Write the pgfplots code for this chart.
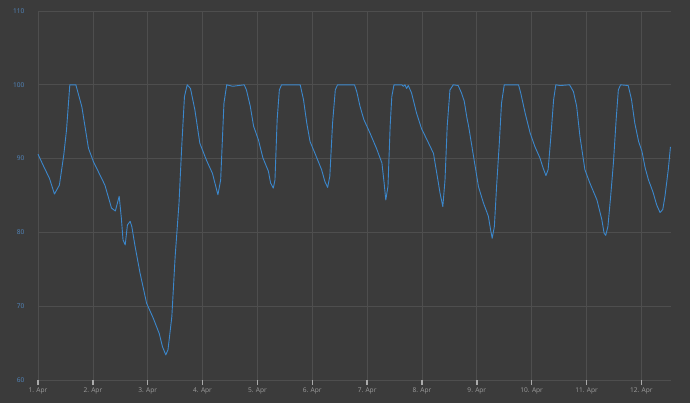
\documentclass[border=0pt]{standalone}
\usepackage{fontspec}
\setmainfont{Open Sans}
\usepackage{pgfplots}
\pgfplotsset{compat=1.18}
\definecolor{bgc}{HTML}{3B3B3B}
\definecolor{gridc}{HTML}{4E4E4E}
\definecolor{linec}{HTML}{3B87CB}
\definecolor{ylab}{HTML}{5288C0}
\definecolor{xlab}{HTML}{9E9E9E}
\definecolor{tickc}{HTML}{AAAAAA}

\begin{document}
\begin{tikzpicture}
\useasboundingbox (0,0) rectangle (690bp,403bp);
\fill[bgc] (0,0) rectangle (690bp,403bp);
\begin{axis}[
    at={(38bp,23bp)}, anchor=south west,
    width=633bp, height=369bp, scale only axis,
    xmin=1, xmax=12.54, ymin=60, ymax=110,
    xtick={1,2,3,4,5,6,7,8,9,10,11,12},
    xticklabels={1. Apr,2. Apr,3. Apr,4. Apr,5. Apr,6. Apr,7. Apr,8. Apr,9. Apr,10. Apr,11. Apr,12. Apr},
    ytick={60,70,80,90,100,110},
    grid=major,
    grid style={gridc, line width=0.7bp},
    axis line style={draw=none},
    xtick pos=bottom, ytick pos=left,
    tick align=outside,
    major tick length=5bp,
    xtick style={tickc, line width=1.4bp},
    ytick style={draw=none},
    /pgf/number format/assume math mode=true,
    ticklabel style={font=\fontsize{6.6}{8}\selectfont},
    xticklabel style={xlab, yshift=0.5bp},
    yticklabel style={ylab, xshift=-5bp},
    clip=false,
]
\addplot[linec, line width=0.9bp, line join=round] coordinates {
(1.00,90.6) (1.10,89.0) (1.21,87.3) (1.30,85.2) (1.39,86.4) (1.47,90.5)
(1.52,93.9) (1.58,100) (1.69,100) (1.80,97.0) (1.92,91.4) (2.01,89.6)
(2.22,86.4) (2.34,83.3) (2.41,82.9) (2.48,84.9) (2.52,81.9) (2.55,79.0)
(2.59,78.3) (2.63,81.0) (2.68,81.5) (2.71,80.8) (2.77,78.1) (2.86,74.5)
(2.98,70.4) (3.10,68.4) (3.21,66.3) (3.27,64.5) (3.33,63.4) (3.37,64.1)
(3.44,68.6) (3.50,76.7) (3.57,83.9) (3.62,91.6) (3.67,98.4) (3.72,100)
(3.78,99.5) (3.86,96.6) (3.95,92.1) (4.07,89.8) (4.18,88.0) (4.28,85.1)
(4.33,87.1) (4.39,97.5) (4.44,100) (4.55,99.8) (4.76,100) (4.80,99.3)
(4.87,97.1) (4.93,94.4) (5.02,92.5) (5.10,90.1) (5.20,88.3) (5.24,86.7)
(5.29,86.0) (5.32,87.1) (5.36,95.3) (5.40,99.3) (5.44,100) (5.78,100)
(5.84,98.0) (5.90,94.8) (5.96,92.3) (6.05,90.7) (6.17,88.5) (6.23,86.9)
(6.28,86.1) (6.32,87.6) (6.37,94.8) (6.42,99.3) (6.46,100) (6.77,100)
(6.81,99.1) (6.87,97.1) (6.94,95.3) (7.05,93.5) (7.17,91.4) (7.27,89.4)
(7.31,86.7) (7.34,84.4) (7.38,86.2) (7.42,94.4) (7.45,98.4) (7.49,100)
(7.63,100) (7.66,99.8) (7.69,100) (7.72,99.5) (7.75,99.9) (7.81,98.9)
(7.90,96.2) (7.99,94.1) (8.12,92.1) (8.21,90.7) (8.27,88.0) (8.33,85.3)
(8.38,83.5) (8.42,87.1) (8.46,94.4) (8.51,99.3) (8.57,100) (8.66,99.9)
(8.72,98.9) (8.77,97.8) (8.82,95.5) (8.85,94.4) (8.94,90.3) (9.03,86.2)
(9.12,84.0) (9.21,82.2) (9.25,80.4) (9.28,79.2) (9.32,80.8) (9.36,86.2)
(9.41,92.1) (9.45,97.5) (9.50,100) (9.76,100) (9.80,98.9) (9.88,96.2)
(9.97,93.5) (10.06,91.6) (10.15,90.1) (10.21,88.7) (10.26,87.7) (10.30,88.5)
(10.35,93.0) (10.40,98.0) (10.44,100) (10.52,99.9) (10.69,100) (10.76,99.1)
(10.82,97.1) (10.88,93.0) (10.97,88.5) (11.06,86.7) (11.19,84.4) (11.28,81.7)
(11.32,79.9) (11.35,79.6) (11.39,80.8) (11.44,84.9) (11.49,89.4) (11.54,95.3)
(11.58,99.3) (11.62,100) (11.76,99.9) (11.82,98.0) (11.88,94.8) (11.95,92.3)
(12.01,91.0) (12.07,88.7) (12.13,87.1) (12.21,85.5) (12.28,83.7) (12.34,82.7)
(12.39,83.1) (12.43,84.9) (12.49,88.5) (12.53,91.6)
};
\end{axis}
\end{tikzpicture}
\end{document}
